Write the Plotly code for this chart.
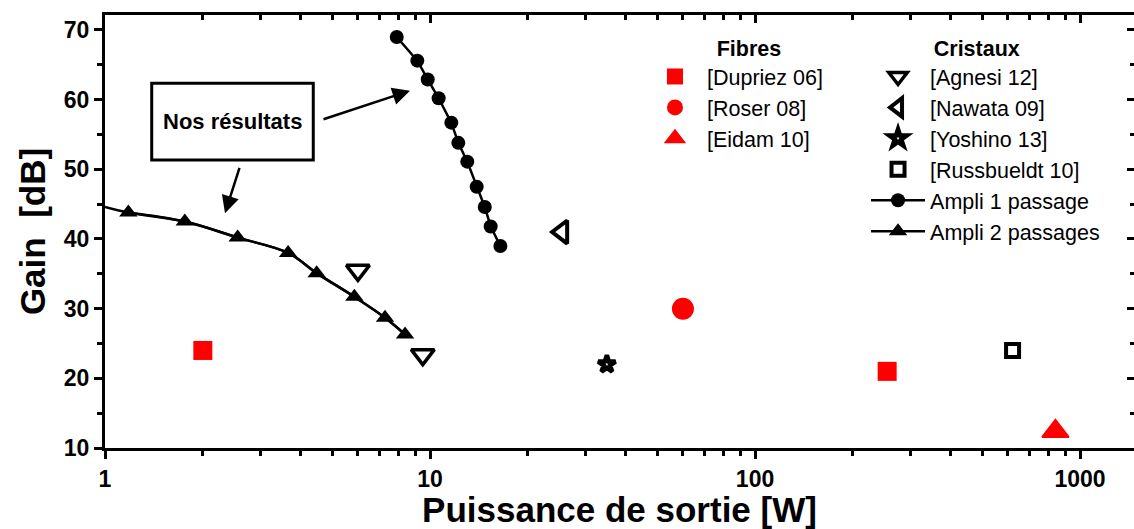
import plotly.graph_objects as go

# ---- data ----
ampli1_x = [7.90, 9.14, 9.84, 10.63, 11.63, 12.22, 13.02, 13.92, 14.74, 15.37, 16.46]
ampli1_y = [69.0, 65.6, 62.9, 60.2, 56.7, 53.8, 51.1, 47.5, 44.6, 41.8, 39.0]

ampli2_x = [1.18, 1.76, 2.56, 3.66, 4.48, 5.85, 7.27, 8.38]
ampli2_y = [43.8, 42.5, 40.2, 38.0, 35.1, 31.7, 28.7, 26.3]
ampli2_curve_x = [1.0] + ampli2_x
ampli2_curve_y = [44.6] + ampli2_y

dupriez_x = [2.0, 255.0]
dupriez_y = [24.0, 21.0]
roser_x = [60.0]
roser_y = [30.0]
eidam_x = [840.0]
eidam_y = [12.4]

agnesi_x = [6.0, 9.5]
agnesi_y = [35.5, 23.4]
nawata_x = [25.5]
nawata_y = [41.0]
yoshino_x = [35.0]
yoshino_y = [22.0]
russbueldt_x = [620.0]
russbueldt_y = [24.0]

x_minor = [m * d for d in (1, 10, 100) for m in range(2, 10)]
x_major = [1, 10, 100, 1000]

FONT = "Arial, 'Liberation Sans', sans-serif"
RED = "#ff0000"
NB = "&nbsp;"

fig = go.Figure()

# Fibres (legend 1)
fig.add_trace(go.Scatter(x=dupriez_x, y=dupriez_y, mode="markers", name="[Dupriez 06]",
                         marker=dict(symbol="square", size=19, color=RED), legend="legend"))
fig.add_trace(go.Scatter(x=roser_x, y=roser_y, mode="markers", name="[Roser 08]",
                         marker=dict(symbol="circle", size=22, color=RED), legend="legend"))
fig.add_trace(go.Scatter(x=eidam_x, y=eidam_y, mode="markers", name="[Eidam 10]",
                         marker=dict(symbol="triangle-up", size=23, color=RED,
                                     line=dict(color=RED, width=2)), legend="legend"))

# Cristaux (legend 2)
fig.add_trace(go.Scatter(x=agnesi_x, y=agnesi_y, mode="markers", name="[Agnesi 12]",
                         marker=dict(symbol="triangle-down-open", size=20, color="black",
                                     line=dict(color="black", width=3.5)), legend="legend2"))
fig.add_trace(go.Scatter(x=nawata_x, y=nawata_y, mode="markers", name="[Nawata 09]",
                         marker=dict(symbol="triangle-left-open", size=20, color="black",
                                     line=dict(color="black", width=4)), legend="legend2"))
fig.add_trace(go.Scatter(x=yoshino_x, y=yoshino_y, mode="markers", name="[Yoshino 13]",
                         marker=dict(symbol="star-open", size=13, color="black",
                                     line=dict(color="black", width=4.5)), legend="legend2"))
fig.add_trace(go.Scatter(x=russbueldt_x, y=russbueldt_y, mode="markers", name="[Russbueldt 10]",
                         marker=dict(symbol="square-open", size=13, color="black",
                                     line=dict(color="black", width=4)), legend="legend2"))
fig.add_trace(go.Scatter(x=ampli1_x, y=ampli1_y, mode="lines+markers", name="Ampli 1 passage",
                         line=dict(color="black", width=2.5),
                         marker=dict(symbol="circle", size=14, color="black"), legend="legend2"))
fig.add_trace(go.Scatter(x=ampli2_curve_x, y=ampli2_curve_y, mode="lines", showlegend=False,
                         line=dict(color="black", width=2.5, shape="spline"), hoverinfo="skip"))
fig.add_trace(go.Scatter(x=ampli2_x, y=ampli2_y, mode="lines+markers", name="Ampli 2 passages",
                         line=dict(color="black", width=2.5, shape="spline"),
                         marker=dict(symbol="triangle-up", size=16, color="black"), legend="legend2"))
# dummy trace so that the mirrored top/right axes are drawn
fig.add_trace(go.Scatter(x=[], y=[], xaxis="x2", yaxis="y2", showlegend=False))

xr = [0, 3.166]
yr = [10, 72.15]

fig.update_layout(
    width=1134, height=529,
    margin=dict(l=105, r=0, t=15, b=81, autoexpand=False),
    paper_bgcolor="white", plot_bgcolor="white",
    font=dict(family=FONT, color="black"),
    xaxis=dict(type="log", range=xr, tickvals=x_major, ticktext=["1", "10", "100", "1000"],
               automargin=False,
               ticks="outside", ticklen=8, tickwidth=3, tickcolor="black",
               showline=True, linewidth=3, linecolor="black", showgrid=False, zeroline=False,
               tickfont=dict(family=FONT, size=23, color="black", weight="bold"),
               minor=dict(tickvals=x_minor, ticks="outside", ticklen=5, tickwidth=3,
                          tickcolor="black", showgrid=False),
               title=dict(text="<b>Puissance de sortie [W]</b>",
                          font=dict(family=FONT, size=35, color="black"))),
    yaxis=dict(range=yr, tick0=10, dtick=10, ticks="outside", ticklen=8, tickwidth=3,
               automargin=False,
               tickcolor="black", showline=True, linewidth=3, linecolor="black",
               showgrid=False, zeroline=False,
               tickfont=dict(family=FONT, size=23, color="black", weight="bold"),
               minor=dict(tick0=15, dtick=10, ticks="outside", ticklen=5, tickwidth=3,
                          tickcolor="black", showgrid=False),
               title=dict(text="<b>Gain  [dB]</b>", standoff=8,
                          font=dict(family=FONT, size=35, color="black"))),
    xaxis2=dict(type="log", range=xr, overlaying="x", side="top", anchor="y2",
                tickvals=x_major, showticklabels=False, ticks="inside", ticklen=8, tickwidth=3,
                tickcolor="black", showline=True, linewidth=3, linecolor="black",
                showgrid=False, zeroline=False, automargin=False,
                minor=dict(tickvals=x_minor, ticks="inside", ticklen=5, tickwidth=3,
                           tickcolor="black", showgrid=False)),
    yaxis2=dict(range=yr, overlaying="y", side="right", anchor="x2", tick0=10, dtick=10,
                showticklabels=False, ticks="inside", ticklen=7, tickwidth=3, tickcolor="black",
                showline=False, showgrid=False, zeroline=False, automargin=False,
                minor=dict(tick0=15, dtick=10, ticks="inside", ticklen=4, tickwidth=3,
                           tickcolor="black", showgrid=False)),
    legend=dict(xref="container", yref="container", x=0.567, y=0.947,
                xanchor="left", yanchor="top", bgcolor="rgba(0,0,0,0)",
                font=dict(family=FONT, size=21.5, color="black"), traceorder="normal",
                itemwidth=54,
                title=dict(text=NB * 12 + "<b>Fibres</b>", side="top",
                           font=dict(family=FONT, size=21.5, color="black"))),
    legend2=dict(xref="container", yref="container", x=0.7637, y=0.947,
                 xanchor="left", yanchor="top", bgcolor="rgba(0,0,0,0)",
                 font=dict(family=FONT, size=21.5, color="black"), traceorder="normal",
                 itemwidth=54,
                 title=dict(text=NB * 11 + "<b>Cristaux</b>", side="top",
                            font=dict(family=FONT, size=21.5, color="black"))),
    showlegend=True,
)

# "Nos résultats" box and arrows
fig.add_shape(type="rect", xref="paper", yref="paper", x0=0.0454, x1=0.2024, y0=0.665, y1=0.8423,
              line=dict(color="black", width=3), fillcolor="white", layer="above")
fig.add_annotation(xref="paper", yref="paper", x=0.1239, y=0.7529, text="<b>Nos résultats</b>",
                   xanchor="center", yanchor="middle",
                   showarrow=False, font=dict(family=FONT, size=22, color="black"))
fig.add_annotation(xref="paper", yref="paper", x=0.2964, y=0.8252, ax=-88, ay=29, text="",
                   showarrow=True, arrowhead=2, arrowsize=1.4, arrowwidth=2.5, arrowcolor="black")
fig.add_annotation(xref="paper", yref="paper", x=0.1166, y=0.542, ax=15, ay=-47, text="",
                   showarrow=True, arrowhead=2, arrowsize=1.4, arrowwidth=2.5, arrowcolor="black")

fig.write_html("out.html", config={"displayModeBar": False},
               post_script="document.body.style.margin='0px';")
